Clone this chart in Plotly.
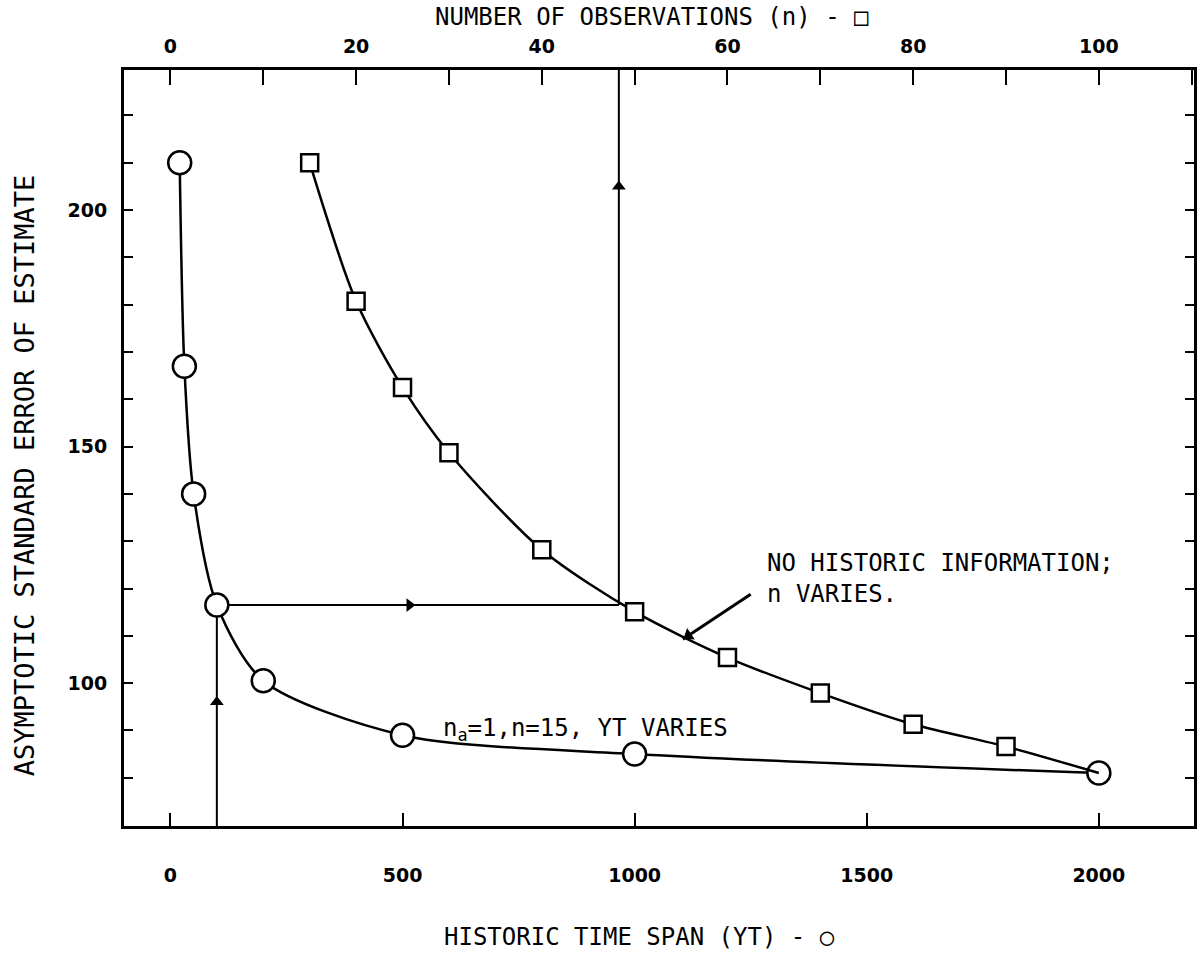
import plotly.graph_objects as go

# ---- data ----
yt_years = [20, 30, 50, 100, 200, 500, 1000, 2000]          # historic time span (YT) - circles
yt_error = [210, 167, 140, 116.5, 100.5, 89, 85, 81]

n_obs = [15, 20, 25, 30, 40, 50, 60, 70, 80, 90, 100]        # number of observations (n) - squares
n_error = [210, 180.7, 162.5, 148.7, 128.2, 115.1, 105.4, 97.9, 91.3, 86.6, 81]

guide_yt = 100        # YT where the reading starts
guide_err = 116.5     # error level read across
guide_yt_end = 966    # YT-axis position of the vertical read-up line (n ~ 48)

# pointer from the "NO HISTORIC INFORMATION" label to the square curve (YT units / error units)
pointer_x = [1250, 1104]
pointer_y = [118.8, 109.3]

bottom_ticks = [0, 500, 1000, 1500, 2000]
top_ticks = [0, 20, 40, 60, 80, 100]
y_ticks = [100, 150, 200]

X_RANGE = [-100, 2205]
N_RANGE = [X_RANGE[0] / 20, X_RANGE[1] / 20]
Y_RANGE = [69.8, 229.6]

MONO = "DejaVu Sans Mono"
TICKFONT = dict(family="DejaVu Sans", size=19, color="black", weight="bold")

fig = go.Figure()

# guide lines (read-off construction)
fig.add_trace(go.Scatter(
    x=[guide_yt, guide_yt, None, guide_yt, guide_yt_end, None, guide_yt_end, guide_yt_end],
    y=[Y_RANGE[0], guide_err, None, guide_err, guide_err, None, guide_err, Y_RANGE[1]],
    mode="lines", line=dict(color="black", width=2), xaxis="x", yaxis="y",
    showlegend=False, hoverinfo="skip"))

# arrowheads on the guide lines
fig.add_trace(go.Scatter(
    x=[515, guide_yt, guide_yt_end], y=[guide_err, 96, 205],
    mode="markers", xaxis="x", yaxis="y",
    marker=dict(symbol=["triangle-right", "triangle-up", "triangle-up"], size=12,
                color="black", opacity=1),
    showlegend=False, hoverinfo="skip"))

# pointer line + head
fig.add_trace(go.Scatter(
    x=pointer_x, y=pointer_y, mode="lines", xaxis="x", yaxis="y",
    line=dict(color="black", width=3), showlegend=False, hoverinfo="skip"))
fig.add_trace(go.Scatter(
    x=[pointer_x[1] + 12], y=[pointer_y[1] + 0.8], mode="markers", xaxis="x", yaxis="y",
    marker=dict(symbol="triangle-up", angle=236, size=12, color="black", opacity=1),
    showlegend=False, hoverinfo="skip"))

# squares: no historic information, n varies (last point hidden under the circle)
fig.add_trace(go.Scatter(
    x=n_obs, y=n_error, mode="lines+markers", xaxis="x2", yaxis="y",
    line=dict(color="black", width=2.5, shape="spline", smoothing=0.8),
    marker=dict(symbol="square", size=[17] * (len(n_obs) - 1) + [0], color="white",
                opacity=1, line=dict(color="black", width=2.5)),
    showlegend=False))

# circles: n_a=1, n=15, YT varies
fig.add_trace(go.Scatter(
    x=yt_years, y=yt_error, mode="lines+markers", xaxis="x", yaxis="y",
    line=dict(color="black", width=2.5, shape="spline", smoothing=0.8),
    marker=dict(symbol="circle", size=23, color="white", opacity=1,
                line=dict(color="black", width=2.5)),
    showlegend=False))

annotations = [
    dict(x=0.599, y=0.327, xref="paper", yref="paper", xanchor="left", yanchor="middle",
         align="left", showarrow=False,
         text="NO HISTORIC INFORMATION;<br>n VARIES.",
         font=dict(family=MONO, size=24, color="black")),
    dict(x=0.296, y=0.127, xref="paper", yref="paper", xanchor="left", yanchor="middle",
         showarrow=False, text="n<sub>a</sub>=1,n=15, YT VARIES",
         font=dict(family=MONO, size=24, color="black")),
    dict(x=0.493, y=1.070, xref="paper", yref="paper", xanchor="center", yanchor="middle",
         showarrow=False, text="NUMBER OF OBSERVATIONS (n) - □",
         font=dict(family=MONO, size=24, color="black")),
    dict(x=0.482, y=-0.147, xref="paper", yref="paper", xanchor="center", yanchor="middle",
         showarrow=False, text="HISTORIC TIME SPAN (YT) - ○",
         font=dict(family=MONO, size=24, color="black")),
    dict(x=-0.0923, y=0.463, xref="paper", yref="paper", xanchor="center", yanchor="middle",
         showarrow=False, textangle=-90, text="ASYMPTOTIC STANDARD ERROR OF ESTIMATE",
         font=dict(family=MONO, size=27, color="black")),
]

fig.update_layout(
    width=1204, height=958,
    margin=dict(l=124, r=7, t=70, b=132),
    paper_bgcolor="white", plot_bgcolor="white",
    showlegend=False,
    annotations=annotations,
    xaxis=dict(range=X_RANGE, tickvals=bottom_ticks, ticktext=[str(v) for v in bottom_ticks],
               ticks="inside", ticklen=13, tickwidth=2, tickcolor="black",
               showline=True, linewidth=3, linecolor="black", mirror=True,
               showgrid=False, zeroline=False, tickfont=TICKFONT, ticklabelstandoff=30),
    xaxis2=dict(range=N_RANGE, overlaying="x", side="top", tickvals=top_ticks,
                ticktext=[str(v) for v in top_ticks],
                ticks="inside", ticklen=15, tickwidth=2, tickcolor="black",
                minor=dict(ticks="inside", ticklen=15, tickwidth=2, tickcolor="black",
                           tick0=0, dtick=10, showgrid=False),
                showline=True, linewidth=3, linecolor="black",
                showgrid=False, zeroline=False, tickfont=TICKFONT, ticklabelstandoff=6),
    yaxis=dict(range=Y_RANGE, tickvals=y_ticks, ticktext=[str(v) for v in y_ticks],
               ticks="inside", ticklen=9, tickwidth=2, tickcolor="black",
               minor=dict(ticks="inside", ticklen=9, tickwidth=2, tickcolor="black",
                          tick0=0, dtick=10, showgrid=False),
               showline=True, linewidth=3, linecolor="black", mirror="ticks",
               showgrid=False, zeroline=False, tickfont=TICKFONT, ticklabelstandoff=10),
)

fig.write_html("out.html")
